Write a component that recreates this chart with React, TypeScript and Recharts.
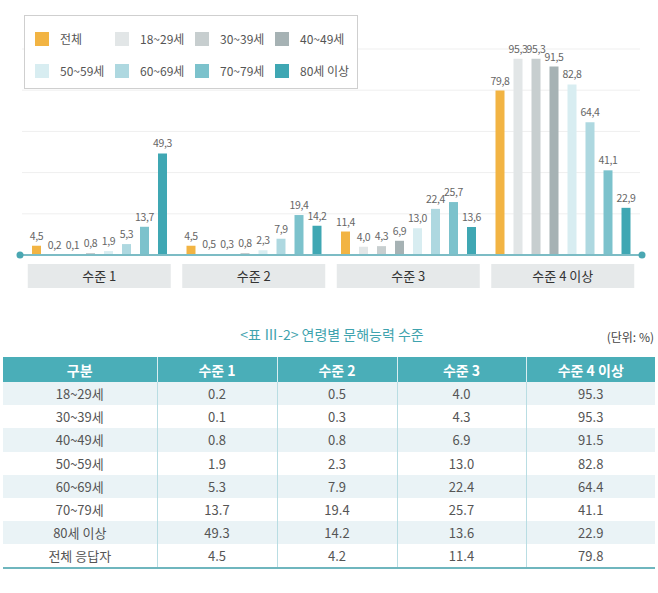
import React from 'react';
import { BarChart, Bar, XAxis, YAxis, CartesianGrid, LabelList, ReferenceLine } from 'recharts';

const levels = ['수준 1', '수준 2', '수준 3', '수준 4 이상'];
const seriesNames = ['전체', '18~29세', '30~39세', '40~49세', '50~59세', '60~69세', '70~79세', '80세 이상'];
const seriesColors = ['#f2b443', '#e2e6e7', '#c7cecf', '#a6b2b4', '#d8edf1', '#aed8e0', '#7cc2cc', '#3fa7b3'];

// values per series, in level order (as labelled in the chart)
const total = [4.5, 4.5, 11.4, 79.8];
const age18 = [0.2, 0.5, 4.0, 95.3];
const age30 = [0.1, 0.3, 4.3, 95.3];
const age40 = [0.8, 0.8, 6.9, 91.5];
const age50 = [1.9, 2.3, 13.0, 82.8];
const age60 = [5.3, 7.9, 22.4, 64.4];
const age70 = [13.7, 19.4, 25.7, 41.1];
const age80 = [49.3, 14.2, 13.6, 22.9];

// table rows (전체 응답자 row as printed in the table)
const tableHeader = ['구분', '수준 1', '수준 2', '수준 3', '수준 4 이상'];
const tableLabels = ['18~29세', '30~39세', '40~49세', '50~59세', '60~69세', '70~79세', '80세 이상', '전체 응답자'];
const totalTable = [4.5, 4.2, 11.4, 79.8];

const yTicks = [0, 10, 20, 30, 40, 50, 60, 70, 80, 90, 100];

const FONT = "'Noto Sans CJK KR', 'Noto Sans', sans-serif";

const allSeries = [total, age18, age30, age40, age50, age60, age70, age80];

const data = levels.map((level, i) => {
    const row: any = { level };
    allSeries.forEach((s, k) => {
        row[`s${k}`] = s[i];
    });
    return row;
});

const tableRows = tableLabels.map((label, r) => {
    const src = r < 7 ? allSeries[r + 1] : totalTable;
    return [label, ...src.map((v) => v.toFixed(1))];
});

const fmt = (v: any) => Number(v).toFixed(1).replace('.', ',');

const LevelTick = ({ x, y, payload }: any) => (
    <g>
        <rect x={x - 71.5} y={y + 1} width={143} height={24} fill="#e6e9ea" />
        <text x={x} y={y + 18} textAnchor="middle" fontSize={13} fill="#333" fontFamily={FONT}>
            {payload.value}
        </text>
    </g>
);

const LegendBox = () => (
    <div
        style={{
            position: 'absolute',
            left: 24,
            top: 15,
            width: 334,
            height: 74,
            border: '1px solid #cfcfcf',
            background: '#fff',
            boxSizing: 'border-box',
            fontFamily: FONT,
        }}
    >
        {seriesNames.map((name, i) => (
            <div
                key={name}
                style={{
                    position: 'absolute',
                    left: 10 + (i % 4) * 80,
                    top: i < 4 ? 14 : 46,
                    display: 'flex',
                    alignItems: 'center',
                    fontSize: 12,
                    color: '#555',
                    whiteSpace: 'nowrap',
                }}
            >
                <span style={{ display: 'inline-block', width: 14, height: 14, background: seriesColors[i], marginRight: 11 }} />
                {name}
            </div>
        ))}
    </div>
);

const BaseLine = (props: any) => {
    const { x1, x2, y1 } = props;
    return (
        <g>
            <line x1={x1 - 2} x2={x2 + 2} y1={y1} y2={y1} stroke="#7cbcc5" strokeWidth={2} />
            <circle cx={x1 - 2} cy={y1} r={3.5} fill="#4aa7b2" />
            <circle cx={x2 + 2} cy={y1} r={3.5} fill="#4aa7b2" />
        </g>
    );
};

export default function App() {
    const colW = [154, 120, 120, 129, 129];
    return (
        <div style={{ position: 'absolute', left: 0, top: 0, width: 658, height: 593, background: '#fff', fontFamily: FONT }}>
            <BarChart
                width={658}
                height={300}
                data={data}
                margin={{ top: 49, right: 18, left: 22, bottom: 0 }}
                barGap={9}
                barCategoryGap={9}
            >
                <CartesianGrid horizontal vertical={false} stroke="#efefef" />
                <YAxis hide domain={[0, 100]} ticks={yTicks} />
                <XAxis dataKey="level" axisLine={false} tickLine={false} height={45} tick={<LevelTick />} interval={0} />
                {allSeries.map((_, k) => (
                    <Bar key={k} dataKey={`s${k}`} name={seriesNames[k]} fill={seriesColors[k]} barSize={9} isAnimationActive={false}>
                        <LabelList
                            dataKey={`s${k}`}
                            position="top"
                            offset={6}
                            formatter={fmt}
                            style={{ fontSize: 10.5, fill: '#666', fontFamily: FONT, letterSpacing: -0.4 }}
                        />
                    </Bar>
                ))}
                <ReferenceLine y={0} shape={<BaseLine />} />
            </BarChart>
            <LegendBox />

            <div
                style={{
                    position: 'absolute',
                    left: 0,
                    top: 324,
                    width: 664,
                    textAlign: 'center',
                    fontSize: 14,
                    color: '#3fa3ae',
                }}
            >
                {'<표 Ⅲ-2> 연령별 문해능력 수준'}
            </div>
            <div style={{ position: 'absolute', right: 4, top: 328, fontSize: 12, color: '#444' }}>(단위: %)</div>

            <table
                style={{
                    position: 'absolute',
                    left: 3,
                    top: 357,
                    width: 652,
                    borderCollapse: 'collapse',
                    tableLayout: 'fixed',
                    fontSize: 13,
                    color: '#555',
                    borderBottom: '2px solid #6fb6be',
                }}
            >
                <colgroup>
                    {colW.map((w, i) => (
                        <col key={i} style={{ width: w }} />
                    ))}
                </colgroup>
                <thead>
                    <tr style={{ height: 25, background: '#4aaeb8' }}>
                        {tableHeader.map((h, i) => (
                            <th
                                key={h}
                                style={{
                                    color: '#fff',
                                    fontSize: 14,
                                    fontWeight: 700,
                                    padding: 0,
                                    borderLeft: i ? '1px solid #d9eef1' : 'none',
                                }}
                            >
                                {h}
                            </th>
                        ))}
                    </tr>
                </thead>
                <tbody>
                    {tableRows.map((row, r) => (
                        <tr key={r} style={{ height: 23.2, background: r % 2 === 0 ? '#eaf3f6' : '#fff' }}>
                            {row.map((c, i) => (
                                <td
                                    key={i}
                                    style={{
                                        textAlign: 'center',
                                        padding: 0,
                                        borderLeft: i ? '1px solid #b9dde3' : 'none',
                                    }}
                                >
                                    {c}
                                </td>
                            ))}
                        </tr>
                    ))}
                </tbody>
            </table>
        </div>
    );
}
